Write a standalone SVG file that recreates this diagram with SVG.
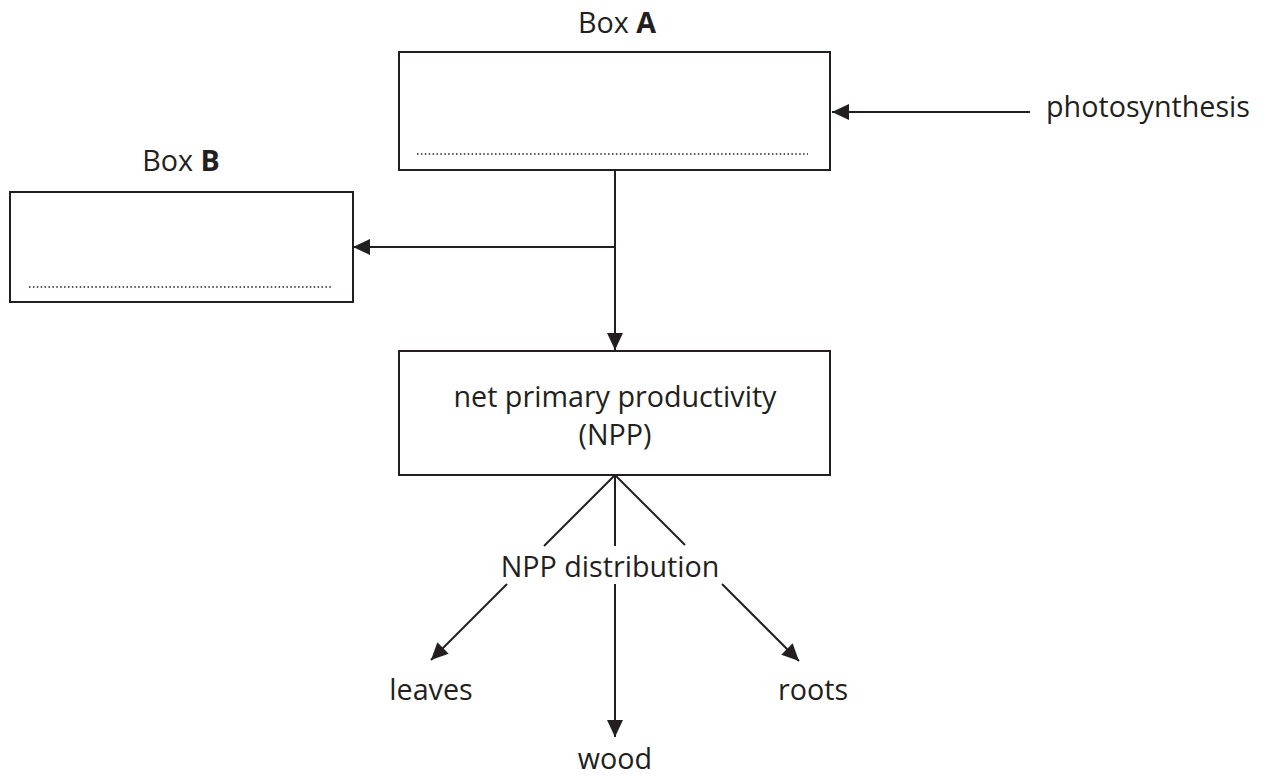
<svg xmlns="http://www.w3.org/2000/svg" width="1266" height="776" viewBox="0 0 1266 776">
<style>
.t{font-family:"Open Sans","Liberation Sans",sans-serif;font-size:28.7px;fill:#231f20}
.b{font-weight:bold}
.box{fill:#fff;stroke:#231f20;stroke-width:2}
.dot{stroke:#231f20;stroke-width:1.5;stroke-dasharray:1.5 2.4;fill:none}
.ln{stroke:#231f20;stroke-width:2;fill:none}
</style>
<defs>
<marker id="ah" markerUnits="userSpaceOnUse" markerWidth="18" markerHeight="18" refX="17" refY="8" orient="auto" viewBox="0 0 18 16">
<path d="M0,0 L17,8 L0,16 z" fill="#231f20"/>
</marker>
</defs>
<g id="boxA">
<text class="t" x="617" y="33" text-anchor="middle">Box <tspan class="b">A</tspan></text>
<rect class="box" x="399" y="52" width="431" height="118"/>
<line class="dot" x1="417" y1="154" x2="808" y2="154"/>
</g>
<g id="boxB">
<text class="t" x="181" y="171" text-anchor="middle">Box <tspan class="b">B</tspan></text>
<rect class="box" x="10" y="192" width="343" height="110"/>
<line class="dot" x1="29" y1="287" x2="331" y2="287"/>
</g>
<g id="npp">
<rect class="box" x="399" y="351" width="431" height="124"/>
<text class="t" x="615" y="407" text-anchor="middle">net primary productivity</text>
<text class="t" x="615" y="445" text-anchor="middle">(NPP)</text>
</g>
<g id="photosynthesis"><text class="t" x="1046" y="117">photosynthesis</text></g>
<g id="nppdist"><text class="t" x="610" y="577" text-anchor="middle">NPP distribution</text></g>
<g id="leaves"><text class="t" x="431" y="700" text-anchor="middle">leaves</text></g>
<g id="roots"><text class="t" x="813" y="700" text-anchor="middle">roots</text></g>
<g id="wood"><text class="t" x="615" y="769" text-anchor="middle">wood</text></g>
<g id="connectors">
<line class="ln" x1="1030" y1="112" x2="832" y2="112" marker-end="url(#ah)"/>
<line class="ln" x1="615" y1="170" x2="615" y2="350" marker-end="url(#ah)"/>
<line class="ln" x1="615" y1="247" x2="353" y2="247" marker-end="url(#ah)"/>
<line class="ln" x1="615" y1="475" x2="544" y2="546"/>
<line class="ln" x1="615" y1="475" x2="615" y2="546"/>
<line class="ln" x1="615" y1="475" x2="685" y2="545"/>
<line class="ln" x1="507" y1="584" x2="431" y2="660" marker-end="url(#ah)"/>
<line class="ln" x1="615" y1="584" x2="615" y2="737" marker-end="url(#ah)"/>
<line class="ln" x1="722" y1="584" x2="799" y2="661" marker-end="url(#ah)"/>
</g>
</svg>
